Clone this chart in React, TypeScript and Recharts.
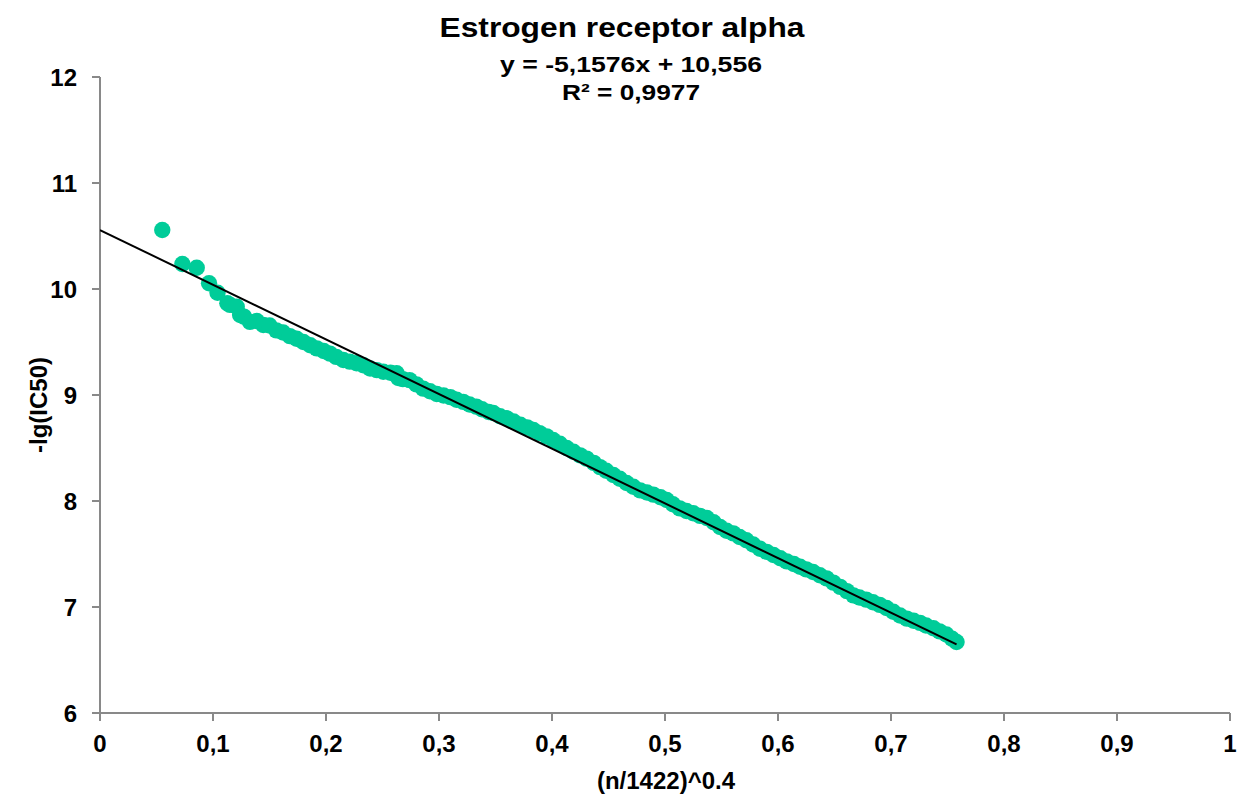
import { ScatterChart, Scatter, XAxis, YAxis } from "recharts";

// points: x = (n/1422)^0.4, y = -lg(IC50)
const xs = [
  0.0551, 0.0729, 0.0856, 0.0965, 0.104, 0.1127, 0.115, 0.121, 0.124, 0.1274,
  0.1327, 0.1387, 0.1445, 0.15, 0.156, 0.162, 0.168, 0.174, 0.18, 0.186,
  0.1918, 0.198, 0.2035, 0.209, 0.2153, 0.221, 0.227, 0.233, 0.239, 0.245,
  0.2507, 0.257, 0.2625, 0.264, 0.268, 0.274, 0.28, 0.286, 0.292, 0.298,
  0.304, 0.31, 0.3155, 0.3215, 0.327, 0.333, 0.338, 0.344, 0.348, 0.354,
  0.36, 0.366, 0.372, 0.378, 0.3835, 0.389, 0.3953, 0.401, 0.407, 0.413,
  0.419, 0.425, 0.4307, 0.437, 0.4425, 0.448, 0.4543, 0.46, 0.466, 0.472,
  0.478, 0.484, 0.4897, 0.496, 0.5015, 0.507, 0.513, 0.519, 0.525, 0.531,
  0.537, 0.543, 0.5487, 0.5545, 0.5605, 0.566, 0.572, 0.578, 0.584, 0.59,
  0.596, 0.602, 0.6077, 0.614, 0.6195, 0.625, 0.631, 0.637, 0.643, 0.649,
  0.655, 0.661, 0.6667, 0.672, 0.678, 0.684, 0.69, 0.696, 0.702, 0.708,
  0.714, 0.72, 0.7257, 0.731, 0.7375, 0.743, 0.749, 0.754, 0.758,
];
const ys = [
  10.557, 10.236, 10.2, 10.054, 9.965, 9.865, 9.85, 9.833, 9.755, 9.739,
  9.69, 9.698, 9.66, 9.655, 9.61, 9.59, 9.555, 9.53, 9.5, 9.47,
  9.44, 9.415, 9.39, 9.36, 9.33, 9.315, 9.3, 9.28, 9.25, 9.235,
  9.22, 9.21, 9.205, 9.16, 9.15, 9.14, 9.1, 9.06, 9.035, 9.01,
  8.995, 8.98, 8.955, 8.935, 8.91, 8.89, 8.865, 8.84, 8.83, 8.8,
  8.78, 8.75, 8.72, 8.695, 8.67, 8.64, 8.61, 8.575, 8.54, 8.5,
  8.465, 8.43, 8.4, 8.36, 8.32, 8.285, 8.245, 8.21, 8.17, 8.135,
  8.1, 8.08, 8.06, 8.035, 8.01, 7.97, 7.93, 7.905, 7.885, 7.86,
  7.84, 7.8, 7.755, 7.72, 7.695, 7.66, 7.63, 7.59, 7.55, 7.52,
  7.49, 7.46, 7.43, 7.405, 7.38, 7.355, 7.33, 7.3, 7.27, 7.23,
  7.19, 7.15, 7.11, 7.09, 7.07, 7.045, 7.02, 6.99, 6.955, 6.92,
  6.89, 6.87, 6.85, 6.825, 6.8, 6.77, 6.74, 6.7, 6.67,
];

// linear trend line endpoints (y = -5,1576x + 10,556)
const trendX = [0, 0.758];
const trendY = [10.556, 6.647];

const xTicks = [0, 0.1, 0.2, 0.3, 0.4, 0.5, 0.6, 0.7, 0.8, 0.9, 1];
const yTicks = [6, 7, 8, 9, 10, 11, 12];

const points = xs.map((x, i) => ({ x, y: ys[i] }));
const trend = trendX.map((x, i) => ({ x, y: trendY[i] }));

const FONT = '"Liberation Sans", Arial, sans-serif';
const AXIS = "#898989";
const GREEN = "#00CC99";

const fmt = (v: number) => String(v).replace(".", ",");

export default function App() {
  const tickStyle = { fill: "#000", fontSize: 24, fontWeight: 700, fontFamily: FONT };
  return (
    <div style={{ position: "absolute", left: 0, top: 0, width: 1239, height: 799, background: "#fff" }}>
      <ScatterChart width={1239} height={799} margin={{ top: 77, right: 9, bottom: 56, left: 40 }}>
        <XAxis
          type="number"
          dataKey="x"
          domain={[0, 1]}
          ticks={xTicks}
          tickFormatter={fmt}
          height={30}
          tickSize={8}
          tickMargin={14}
          stroke={AXIS}
          strokeWidth={2}
          tick={tickStyle}
          allowDataOverflow
        />
        <YAxis
          type="number"
          dataKey="y"
          domain={[6, 12]}
          ticks={yTicks}
          width={60}
          tickSize={8}
          tickMargin={15}
          stroke={AXIS}
          strokeWidth={2}
          tick={tickStyle}
          allowDataOverflow
        />
        <Scatter
          data={points}
          isAnimationActive={false}
          shape={(p: any) => <circle cx={p.cx} cy={p.cy} r={8.2} fill={GREEN} />}
        />
        <Scatter
          data={trend}
          isAnimationActive={false}
          line={{ stroke: "#000", strokeWidth: 2 }}
          shape={() => <g />}
        />
      </ScatterChart>
      <svg
        width={1239}
        height={799}
        style={{ position: "absolute", left: 0, top: 0, pointerEvents: "none" }}
        fontFamily={FONT}
        fontWeight={700}
      >
        <text x={622} y={37} fontSize={27} textAnchor="middle" textLength={365} lengthAdjust="spacingAndGlyphs">
          Estrogen receptor alpha
        </text>
        <text x={631} y={72} fontSize={22} textAnchor="middle" textLength={262} lengthAdjust="spacingAndGlyphs">
          y = -5,1576x + 10,556
        </text>
        <text x={631} y={100} fontSize={22} textAnchor="middle" textLength={138} lengthAdjust="spacingAndGlyphs">
          R² = 0,9977
        </text>
        <text x={666} y={789} fontSize={24} textAnchor="middle">
          (n/1422)^0.4
        </text>
        <text x={47} y={405} fontSize={24} textAnchor="middle" transform="rotate(-90 47 405)">
          -lg(IC50)
        </text>
      </svg>
    </div>
  );
}
